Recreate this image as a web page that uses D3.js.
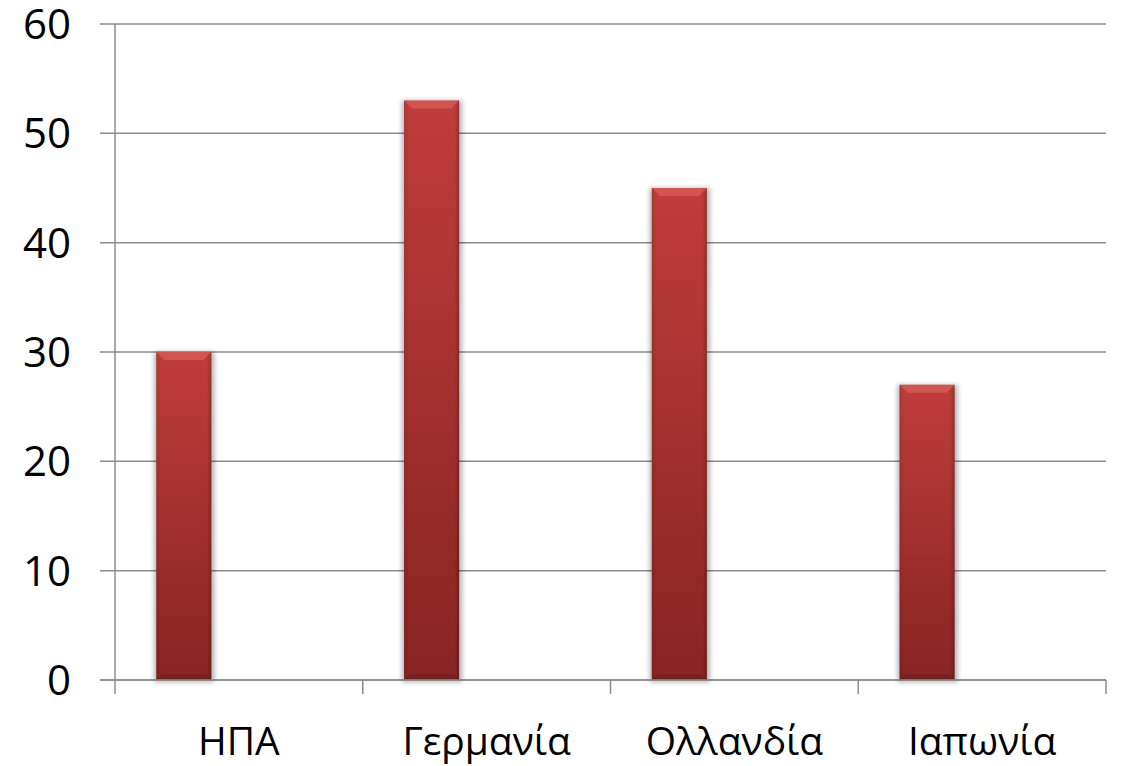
<!DOCTYPE html>
<html>
<head>
<meta charset="utf-8">
<script src="https://cdn.jsdelivr.net/npm/d3@7"></script>
<style>
  html, body { margin: 0; padding: 0; background: #fff; }
  svg text { font-family: "Open Sans", "Noto Sans", sans-serif; fill: #000; }
</style>
</head>
<body>
<div id="chart"></div>
<script>
// Data
const categories = ["ΗΠΑ", "Γερμανία", "Ολλανδία", "Ιαπωνία"];
const values = [30, 53, 45, 27];
const yTicks = [0, 10, 20, 30, 40, 50, 60];

const width = 1125, height = 766;
const plotLeft = 115, plotRight = 1106, plotTop = 24, plotBottom = 680;

const svg = d3.select("#chart").append("svg")
  .attr("width", width)
  .attr("height", height);

const x = d3.scaleBand().domain(categories).range([plotLeft, plotRight]);
const y = d3.scaleLinear().domain([0, 60]).range([plotBottom, plotTop]);

// bars sit in the first of three series slots, 150% gap width
const slot = x.bandwidth() / 4.5;
const barX = c => x(c) + slot * 0.75;

const defs = svg.append("defs");
const grad = defs.append("linearGradient")
  .attr("id", "barFill")
  .attr("x1", 0).attr("y1", 0).attr("x2", 0).attr("y2", 1);
grad.append("stop").attr("offset", "0%").attr("stop-color", "#c03d3b");
grad.append("stop").attr("offset", "100%").attr("stop-color", "#872422");

const side = defs.append("linearGradient")
  .attr("id", "sideShade")
  .attr("x1", 0).attr("y1", 0).attr("x2", 1).attr("y2", 0);
side.append("stop").attr("offset", "0%").attr("stop-color", "#000").attr("stop-opacity", 0.12);
side.append("stop").attr("offset", "8%").attr("stop-color", "#000").attr("stop-opacity", 0);
side.append("stop").attr("offset", "92%").attr("stop-color", "#000").attr("stop-opacity", 0);
side.append("stop").attr("offset", "100%").attr("stop-color", "#000").attr("stop-opacity", 0.22);

const blur = defs.append("filter").attr("id", "shadow")
  .attr("x", "-20%").attr("y", "-5%").attr("width", "140%").attr("height", "110%");
blur.append("feGaussianBlur").attr("stdDeviation", 2.5);

// Gridlines (with outside tick stubs)
svg.append("g")
  .selectAll("line")
  .data(yTicks)
  .join("line")
  .attr("x1", plotLeft - 15)
  .attr("x2", plotRight)
  .attr("y1", d => y(d))
  .attr("y2", d => y(d))
  .attr("stroke", "#8c8c8c")
  .attr("stroke-width", 1.5);

// Y axis line
svg.append("line")
  .attr("x1", plotLeft).attr("x2", plotLeft)
  .attr("y1", plotTop).attr("y2", plotBottom + 14)
  .attr("stroke", "#8c8c8c")
  .attr("stroke-width", 1.5);

// Category tick marks
svg.append("g")
  .selectAll("line")
  .data(categories.slice(1).map(c => x(c)).concat([plotRight]))
  .join("line")
  .attr("x1", d => d).attr("x2", d => d)
  .attr("y1", plotBottom).attr("y2", plotBottom + 14)
  .attr("stroke", "#8c8c8c")
  .attr("stroke-width", 1.5);

// Y labels
svg.append("g")
  .selectAll("text")
  .data(yTicks)
  .join("text")
  .attr("x", 71)
  .attr("y", d => y(d))
  .attr("dy", "0.36em")
  .attr("text-anchor", "end")
  .attr("font-size", 42)
  .text(d => d);

// X labels
svg.append("g")
  .selectAll("text")
  .data(categories)
  .join("text")
  .attr("x", d => x(d) + x.bandwidth() / 2)
  .attr("y", 755)
  .attr("text-anchor", "middle")
  .attr("font-size", 39)
  .text(d => d);

// Bars
const bars = svg.append("g")
  .selectAll("g")
  .data(categories.map((c, i) => ({ c, v: values[i] })))
  .join("g");

bars.append("rect")
  .attr("x", d => barX(d.c) - 2)
  .attr("y", d => y(d.v))
  .attr("width", slot + 5)
  .attr("height", d => y(0) - y(d.v) + 2)
  .attr("fill", "#000")
  .attr("opacity", 0.3)
  .attr("filter", "url(#shadow)");

bars.append("rect")
  .attr("x", d => barX(d.c))
  .attr("y", d => y(d.v))
  .attr("width", slot)
  .attr("height", d => y(0) - y(d.v))
  .attr("fill", "url(#barFill)");

bars.append("rect")
  .attr("x", d => barX(d.c))
  .attr("y", d => y(d.v))
  .attr("width", slot)
  .attr("height", d => y(0) - y(d.v))
  .attr("fill", "url(#sideShade)");

// top bevel highlight
bars.append("path")
  .attr("d", d => {
    const x0 = barX(d.c), x1 = x0 + slot, t = y(d.v), b = 8;
    return `M${x0},${t}L${x1},${t}L${x1 - b},${t + b}L${x0 + b},${t + b}Z`;
  })
  .attr("fill", "#e06a68")
  .attr("opacity", 0.55);

// bottom bevel
bars.append("path")
  .attr("d", d => {
    const x0 = barX(d.c), x1 = x0 + slot, bt = y(0), b = 6;
    return `M${x0},${bt}L${x1},${bt}L${x1 - b},${bt - b}L${x0 + b},${bt - b}Z`;
  })
  .attr("fill", "#000")
  .attr("opacity", 0.12);

// redraw x axis line on top
svg.append("line")
  .attr("x1", plotLeft - 15).attr("x2", plotRight)
  .attr("y1", plotBottom).attr("y2", plotBottom)
  .attr("stroke", "#8c8c8c")
  .attr("stroke-width", 1.5);
</script>
</body>
</html>
